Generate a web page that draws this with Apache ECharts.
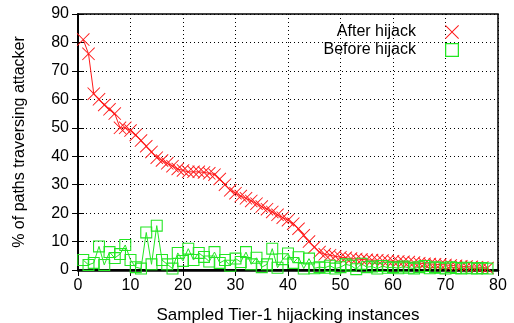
<!DOCTYPE html>
<html>
<head>
<meta charset="utf-8">
<script src="https://cdn.jsdelivr.net/npm/echarts@6/dist/echarts.min.js"></script>
<style>
  html, body { margin: 0; padding: 0; background: #fff; }
  #main { width: 514px; height: 323px; }
</style>
</head>
<body>
<div id="main"></div>
<script>
// sampled instance index 1..78
var instances = []
for (var i = 1; i <= 78; i++) instances.push(i)

var afterHijack = [
  81, 76, 62, 60, 58, 56.5, 55, 50, 50, 49,
  47.5, 45.5, 43.5, 41.5, 39.5, 38.5, 37.5, 36.5, 35.5, 35,
  34.5, 34.5, 34.5, 34.3, 34, 33.5, 32, 30, 28, 27,
  26, 25.2, 24.3, 23.3, 22.3, 21.4, 20.4, 19.4, 18.4, 17.5,
  16.3, 14.5, 12.2, 10, 8, 6.3, 5.5, 5.2, 4.8, 4.5,
  4.3, 4, 3.9, 3.7, 3.6, 3.5, 3.4, 3.3, 3.2, 3.1,
  3, 2.9, 2.8, 2.6, 2.4, 2.2, 2.1, 2, 1.9, 1.8,
  1.6, 1.5, 1.3, 1.2, 1.1, 1, 0.9, 0.7
]

var beforeHijack = [
  3.5, 1.8, 2.5, 8.3, 1.8, 6.3, 4.2, 5.6, 8.8, 3.5,
  1, 0.5, 13.2, 2, 15.6, 3.5, 2, 0.5, 6, 3.2,
  7.5, 3.5, 6, 4.6, 3, 6.3, 2.5, 3.5, 1.5, 4,
  2.8, 6.3, 2, 4.3, 1, 2, 7.5, 0.8, 3.8, 5.8,
  2.5, 4.5, 0.5, 4, 0.6, 1, 0.8, 1.5, 0.5, 1,
  2, 1.5, 0.3, 2.2, 1, 1.2, 0.5, 1.4, 0.8, 1,
  0.6, 1.2, 0.8, 0.5, 1, 1.4, 0.6, 1, 0.8, 0.5,
  1, 0.7, 0.5, 0.8, 0.6, 0.5, 0.7, 0.5
]

var xTicks = [0, 10, 20, 30, 40, 50, 60, 70, 80]
var yTicks = [0, 10, 20, 30, 40, 50, 60, 70, 80, 90]

var crossPath = 'path://M0,5 L5,0 L50,45 L95,0 L100,5 L55,50 L100,95 L95,100 L50,55 L5,100 L0,95 L45,50 Z'
var boxPath = 'path://M0,0 L100,0 L100,100 L0,100 Z M9,9 L9,91 L91,91 L91,9 Z'

var red = '#ff1a1a'
var green = '#22e622'
var font = 'Liberation Sans, Arial, sans-serif'

var chart = echarts.init(document.getElementById('main'))

var option = {
  animation: false,
  backgroundColor: '#fff',
  grid: {
    left: 78, right: 16, top: 14, bottom: 53,
    outerBoundsMode: 'none',
    show: true, borderColor: '#000', borderWidth: 1.5
  },
  legend: {
    right: 50, top: 19,
    orient: 'vertical',
    align: 'right',
    itemGap: 2,
    itemWidth: 14, itemHeight: 14,
    textStyle: { fontFamily: font, fontSize: 16, color: '#000', padding: [0, 24, 0, 0] },
    data: [
      { name: 'After hijack', icon: crossPath, itemStyle: { color: red } },
      { name: 'Before hijack', icon: boxPath, itemStyle: { color: green } }
    ]
  },
  xAxis: [
    {
      type: 'value', min: 0, max: 80, interval: 10,
      name: 'Sampled Tier-1 hijacking instances',
      nameLocation: 'middle', nameGap: 37,
      nameTextStyle: { fontFamily: font, fontSize: 17, color: '#000' },
      axisLine: { lineStyle: { color: '#000', width: 2.5 } },
      axisTick: { inside: true, length: 6, lineStyle: { color: '#000', width: 1 } },
      axisLabel: { fontFamily: font, fontSize: 16, color: '#000', margin: 8,
        formatter: function (v) { return xTicks.indexOf(v) >= 0 ? v : '' } },
      splitLine: { show: true, lineStyle: { color: '#000', type: [1, 3], width: 1 } }
    },
    {
      type: 'value', min: 0, max: 80, interval: 10, position: 'top',
      axisLine: { lineStyle: { color: '#000', width: 1.5 } },
      axisTick: { inside: true, length: 6, lineStyle: { color: '#000' } },
      axisLabel: { show: false }, splitLine: { show: false }
    }
  ],
  yAxis: [
    {
      type: 'value', min: 0, max: 90, interval: 10,
      name: '% of paths traversing attacker',
      nameLocation: 'middle', nameGap: 50,
      nameTextStyle: { fontFamily: font, fontSize: 16, color: '#000' },
      axisLine: { show: true, lineStyle: { color: '#000', width: 1.5 } },
      axisTick: { show: true, inside: true, length: 6, lineStyle: { color: '#000' } },
      axisLabel: { fontFamily: font, fontSize: 16, color: '#000', margin: 9,
        formatter: function (v) { return yTicks.indexOf(v) >= 0 ? v : '' } },
      splitLine: { show: true, lineStyle: { color: '#000', type: [1, 3], width: 1 } }
    },
    {
      type: 'value', min: 0, max: 90, interval: 10, position: 'right',
      axisLine: { show: true, lineStyle: { color: '#000', width: 1.5 } },
      axisTick: { show: true, inside: true, length: 6, lineStyle: { color: '#000' } },
      axisLabel: { show: false }, splitLine: { show: false }
    }
  ],
  series: [
    {
      name: 'After hijack',
      type: 'line',
      clip: false,
      symbol: crossPath,
      symbolSize: 13,
      showAllSymbol: true,
      data: instances.map(function (x, i) { return [x, afterHijack[i]] }),
      lineStyle: { color: red, width: 1 },
      itemStyle: { color: red }
    },
    {
      name: 'Before hijack',
      type: 'line',
      clip: false,
      symbol: boxPath,
      symbolSize: 12,
      showAllSymbol: true,
      data: instances.map(function (x, i) { return [x, beforeHijack[i]] }),
      lineStyle: { color: green, width: 1 },
      itemStyle: { color: green }
    }
  ]
}
option && chart.setOption(option)
</script>
</body>
</html>
